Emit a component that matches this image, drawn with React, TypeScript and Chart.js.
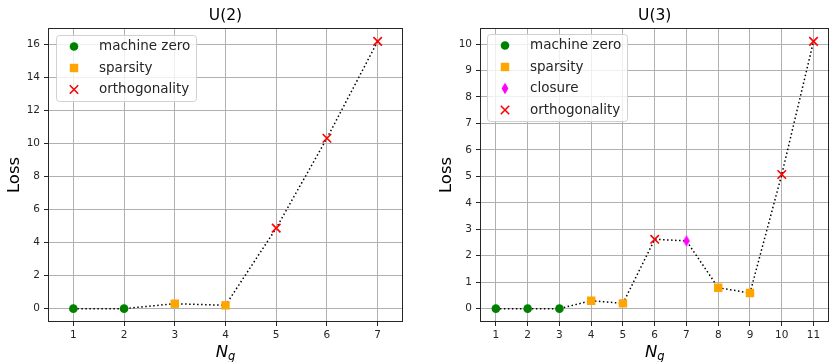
import React, { useEffect, useRef } from 'react';
import { Chart, registerables } from 'chart.js';

Chart.register(...registerables);

const KINDS = ['machine zero', 'sparsity', 'closure', 'orthogonality'];
const KIND_COLORS = ['#008000', '#ffa500', '#ff00ff', '#ff0000'];

const u2Ng = [1, 2, 3, 4, 5, 6, 7];
const u2Loss = [0, 0, 0.3, 0.2, 4.88, 10.33, 16.2];
const u2Kind = ['machine zero', 'machine zero', 'sparsity', 'sparsity', 'orthogonality', 'orthogonality', 'orthogonality'];
const u2YTicks = [0, 2, 4, 6, 8, 10, 12, 14, 16];

const u3Ng = [1, 2, 3, 4, 5, 6, 7, 8, 9, 10, 11];
const u3Loss = [0, 0, 0, 0.3, 0.2, 2.62, 2.56, 0.79, 0.59, 5.07, 10.1];
const u3Kind = ['machine zero', 'machine zero', 'machine zero', 'sparsity', 'sparsity', 'orthogonality', 'closure', 'sparsity', 'sparsity', 'orthogonality', 'orthogonality'];
const u3YTicks = [0, 1, 2, 3, 4, 5, 6, 7, 8, 9, 10];

const FONT = '"DejaVu Sans", sans-serif';
const TEXT = '#262626';

let diamondCanvas: HTMLCanvasElement | null = null;
function getDiamond(): HTMLCanvasElement {
  if (diamondCanvas) return diamondCanvas;
  const c = document.createElement('canvas');
  c.width = 8;
  c.height = 12;
  const g = c.getContext('2d')!;
  g.fillStyle = KIND_COLORS[2];
  g.beginPath();
  g.moveTo(4, 0.3);
  g.lineTo(7.4, 6);
  g.lineTo(4, 11.7);
  g.lineTo(0.6, 6);
  g.closePath();
  g.fill();
  diamondCanvas = c;
  return c;
}

function drawMarker(ctx: CanvasRenderingContext2D, kind: string, x: number, y: number) {
  const col = KIND_COLORS[KINDS.indexOf(kind)];
  ctx.save();
  ctx.fillStyle = col;
  ctx.strokeStyle = col;
  if (kind === 'machine zero') {
    ctx.beginPath();
    ctx.arc(x, y, 4.3, 0, Math.PI * 2);
    ctx.fill();
  } else if (kind === 'sparsity') {
    ctx.fillRect(x - 4.2, y - 4.2, 8.4, 8.4);
  } else if (kind === 'closure') {
    ctx.beginPath();
    ctx.moveTo(x, y - 5.7);
    ctx.lineTo(x + 3.4, y);
    ctx.lineTo(x, y + 5.7);
    ctx.lineTo(x - 3.4, y);
    ctx.closePath();
    ctx.fill();
  } else {
    ctx.lineWidth = 1.6;
    ctx.beginPath();
    ctx.moveTo(x - 4.2, y - 4.2);
    ctx.lineTo(x + 4.2, y + 4.2);
    ctx.moveTo(x + 4.2, y - 4.2);
    ctx.lineTo(x - 4.2, y + 4.2);
    ctx.stroke();
  }
  ctx.restore();
}

type PanelProps = {
  title: string;
  ng: number[];
  loss: number[];
  kind: string[];
  yTicks: number[];
  left: number;
  width: number;
  yAxisW: number;
  padR: number;
  yLabelX: number;
  legendDX: number;
  legendDY: number;
};

function Panel(p: PanelProps) {
  const ref = useRef<HTMLCanvasElement | null>(null);
  useEffect(() => {
    const yMin = Math.min(...p.loss);
    const yMax = Math.max(...p.loss);
    const span = yMax - yMin;
    const present = KINDS.filter((k) => p.kind.includes(k));

    const kindSets = present.map((k) => {
      const i = KINDS.indexOf(k);
      const pts = p.ng
        .map((x, j) => ({ x, y: p.loss[j], k: p.kind[j] }))
        .filter((d) => d.k === k)
        .map((d) => ({ x: d.x, y: d.y }));
      let style: any = 'circle';
      let radius = 4.3;
      if (k === 'sparsity') { style = 'rect'; radius = 5.94; }
      if (k === 'closure') { style = getDiamond(); radius = 6; }
      if (k === 'orthogonality') { style = 'crossRot'; radius = 6; }
      return {
        label: k,
        data: pts,
        showLine: false,
        pointStyle: style,
        pointRadius: radius,
        pointHoverRadius: radius,
        pointBackgroundColor: KIND_COLORS[i],
        pointBorderColor: KIND_COLORS[i],
        pointBorderWidth: k === 'orthogonality' ? 1.6 : 0,
        order: 0,
      };
    });

    const lineSet = {
      label: 'line',
      data: p.ng.map((x, j) => ({ x, y: p.loss[j] })),
      showLine: true,
      borderColor: '#000',
      borderWidth: 1.5,
      borderDash: [1.5, 2.5],
      pointRadius: 0,
      pointHoverRadius: 0,
      tension: 0,
      order: 1,
    };

    const panelText = {
      id: 'panelText',
      beforeDatasetsDraw(chart: any) {
        const { ctx, chartArea: a } = chart;
        ctx.save();
        ctx.strokeStyle = TEXT;
        ctx.lineWidth = 1;
        const l = Math.round(a.left) + 0.5;
        const t = Math.round(a.top) + 0.5;
        const r = Math.round(a.right) - 0.5;
        const b = Math.round(a.bottom) - 0.5;
        ctx.strokeRect(l, t, r - l, b - t);
        ctx.restore();
      },
      afterDraw(chart: any) {
        const { ctx, chartArea: a } = chart;
        const cx = (a.left + a.right) / 2;
        ctx.save();
        ctx.fillStyle = '#000';
        ctx.textAlign = 'center';
        ctx.textBaseline = 'middle';
        ctx.font = `15.5px ${FONT}`;
        ctx.fillText(p.title, cx, 16);

        ctx.save();
        ctx.font = `16.5px ${FONT}`;
        ctx.translate(p.yLabelX, (a.top + a.bottom) / 2);
        ctx.rotate(-Math.PI / 2);
        ctx.fillText('Loss', 0, 0);
        ctx.restore();

        ctx.textAlign = 'left';
        ctx.textBaseline = 'alphabetic';
        ctx.font = `italic 16.5px ${FONT}`;
        const wN = ctx.measureText('N').width;
        ctx.font = `italic 11.5px ${FONT}`;
        const wg = ctx.measureText('g').width;
        const sx = cx - (wN + wg) / 2;
        ctx.font = `italic 16.5px ${FONT}`;
        ctx.fillText('N', sx, 357);
        ctx.font = `italic 11.5px ${FONT}`;
        ctx.fillText('g', sx + wN, 359.5);

        // legend
        ctx.font = `13.5px ${FONT}`;
        const maxW = Math.max(...present.map((k) => ctx.measureText(k).width));
        const bx = a.left + p.legendDX;
        const by = a.top + p.legendDY;
        const rowH = 21.5;
        const bw = 43 + maxW + 6;
        const bh = present.length * rowH + 1;
        ctx.beginPath();
        ctx.roundRect(Math.round(bx) + 0.5, Math.round(by) + 0.5, Math.round(bw), Math.round(bh), 3);
        ctx.fillStyle = 'rgba(255,255,255,0.8)';
        ctx.fill();
        ctx.strokeStyle = '#d0d0d0';
        ctx.lineWidth = 1;
        ctx.stroke();
        ctx.textBaseline = 'middle';
        present.forEach((k, i) => {
          const ry = by + 11.5 + i * rowH;
          drawMarker(ctx, k, bx + 18, ry);
          ctx.fillStyle = TEXT;
          ctx.fillText(k, bx + 43, ry);
        });
        ctx.restore();
      },
    };

    const chart = new Chart(ref.current!, {
      type: 'scatter',
      data: { datasets: [...kindSets, lineSet] as any },
      options: {
        responsive: false,
        animation: false,
        events: [],
        layout: { padding: { top: 28, right: p.padR, left: 0, bottom: 0 } },
        plugins: {
          legend: { display: false },
          tooltip: { enabled: false },
          title: { display: false },
        },
        scales: {
          x: {
            type: 'linear',
            min: Math.min(...p.ng) - 0.5,
            max: Math.max(...p.ng) + 0.5,
            afterBuildTicks: (s: any) => {
              s.ticks = p.ng.map((v) => ({ value: v }));
            },
            afterFit: (s: any) => {
              s.height = 40;
            },
            ticks: {
              color: TEXT,
              font: { family: FONT, size: 10.5 },
              padding: 3,
              maxRotation: 0,
              autoSkip: false,
              callback: (v: any) => String(v),
            },
            grid: { color: '#b0b0b0', lineWidth: 1, tickLength: 4, tickColor: TEXT, tickWidth: 1 },
            border: { display: false },
          },
          y: {
            type: 'linear',
            min: yMin - 0.05 * span,
            max: yMax + 0.05 * span,
            afterBuildTicks: (s: any) => {
              s.ticks = p.yTicks.map((v) => ({ value: v }));
            },
            afterFit: (s: any) => {
              s.width = p.yAxisW;
            },
            ticks: {
              color: TEXT,
              font: { family: FONT, size: 10.5 },
              padding: 4,
              autoSkip: false,
              callback: (v: any) => String(v),
            },
            grid: { color: '#b0b0b0', lineWidth: 1, tickLength: 4, tickColor: TEXT, tickWidth: 1 },
            border: { display: false },
          },
        },
      },
      plugins: [panelText],
    } as any);
    return () => chart.destroy();
  }, []);
  return (
    <canvas
      ref={ref}
      width={p.width}
      height={362}
      style={{ position: 'absolute', left: p.left, top: 0, width: p.width, height: 362 }}
    />
  );
}

export default function App() {
  return (
    <div
      style={{
        position: 'absolute',
        left: 0,
        top: 0,
        width: 834,
        height: 362,
        overflow: 'hidden',
        background: '#fff',
      }}
    >
      <Panel
        title="U(2)"
        ng={u2Ng}
        loss={u2Loss}
        kind={u2Kind}
        yTicks={u2YTicks}
        left={0}
        width={417}
        yAxisW={48}
        padR={14}
        yLabelX={15}
        legendDX={8}
        legendDY={7}
      />
      <Panel
        title="U(3)"
        ng={u3Ng}
        loss={u3Loss}
        kind={u3Kind}
        yTicks={u3YTicks}
        left={417}
        width={420}
        yAxisW={63}
        padR={2}
        yLabelX={29.7}
        legendDX={7}
        legendDY={6}
      />
    </div>
  );
}
